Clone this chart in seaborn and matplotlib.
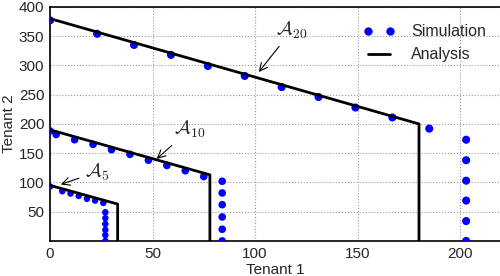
import numpy as np
import pandas as pd
import matplotlib
matplotlib.use("Agg")
import matplotlib.pyplot as plt
from matplotlib.lines import Line2D
import seaborn as sns

# -------------------------------
# Data
# -------------------------------
# Simulation points (Tenant 1, Tenant 2)
sim5_x = [0, 6, 10, 14, 18, 22, 26, 27, 27, 27, 27, 27, 27]
sim5_y = [93, 85, 81, 77, 72, 69, 65, 49, 39, 29, 19, 10, 0]

sim10_x = [0, 3, 12, 21, 30, 39, 48, 57, 66, 75, 84, 84, 84, 84, 84, 84]
sim10_y = [188, 182, 173, 165, 156, 148, 138, 129, 120, 110, 102, 82, 62, 41, 20, 0]

sim20_x = [0, 23, 41, 59, 77, 95, 113, 131, 149, 167, 185, 203, 203, 203, 203, 203, 203]
sim20_y = [377, 354, 335, 318, 299, 282, 263, 246, 228, 211, 192, 173, 138, 103, 69, 34, 0]

# Analysis region boundaries
ana5_x = [0, 33, 33]
ana5_y = [95, 63, 0]
ana10_x = [0, 78, 78]
ana10_y = [190, 113, 0]
ana20_x = [0, 180, 180]
ana20_y = [380, 200, 0]

x_ticks = [0, 50, 100, 150, 200]
y_ticks = [50, 100, 150, 200, 250, 300, 350, 400]

sns.set_style("white")
plt.rcParams['font.family'] = ['Liberation Sans', 'DejaVu Sans']
plt.rcParams['mathtext.fontset'] = 'cm'

fig = plt.figure(figsize=(5, 2.76), dpi=100)
ax = fig.add_axes([0.1, 0.127, 0.902, 0.848])

# simulation dots
for xs, ys, s in [(sim5_x, sim5_y, 22), (sim10_x, sim10_y, 30), (sim20_x, sim20_y, 34)]:
    sns.scatterplot(x=xs, y=ys, ax=ax, color='#0000ff', s=s, edgecolor='none',
                    zorder=3, legend=False)

# analysis lines
for xs, ys in [(ana5_x, ana5_y), (ana10_x, ana10_y), (ana20_x, ana20_y)]:
    df = pd.DataFrame({"x": xs, "y": ys})
    sns.lineplot(data=df, x="x", y="y", ax=ax, color='black', lw=2,
                 sort=False, estimator=None, zorder=4)

ax.set_xlim(0, 220)
ax.set_ylim(0, 400)
ax.set_xticks(x_ticks)
ax.set_yticks(y_ticks)
ax.tick_params(labelsize=11, length=0, pad=4)
ax.grid(True, linestyle=':', color='#999999', lw=0.8)
for sp in ax.spines.values():
    sp.set_color('black')
    sp.set_linewidth(1.2)
ax.set_xlabel("Tenant 1", fontsize=11, labelpad=2)
ax.set_ylabel("Tenant 2", fontsize=11, labelpad=2)

# region labels
arrow = dict(arrowstyle='->', color='black', lw=0.8)
ax.annotate(r'$\mathcal{A}_{20}$', xy=(101, 285), xytext=(118, 360),
            fontsize=14, ha='center', va='center', arrowprops=arrow)
ax.annotate(r'$\mathcal{A}_{10}$', xy=(51, 137), xytext=(68, 190),
            fontsize=14, ha='center', va='center', arrowprops=arrow)
ax.annotate(r'$\mathcal{A}_{5}$', xy=(4, 95), xytext=(23, 118),
            fontsize=14, ha='center', va='center', arrowprops=arrow)

handles = [Line2D([], [], ls='none', marker='o', color='#0000ff', ms=6, mec='none'),
           Line2D([], [], color='black', lw=2)]
ax.legend(handles, ['Simulation', 'Analysis'], loc='upper right', frameon=False,
          fontsize=11.5, numpoints=2, handlelength=2.0, handletextpad=1.0,
          borderaxespad=0.4, bbox_to_anchor=(0.995, 0.98))

fig.savefig("out.png", dpi=100)
